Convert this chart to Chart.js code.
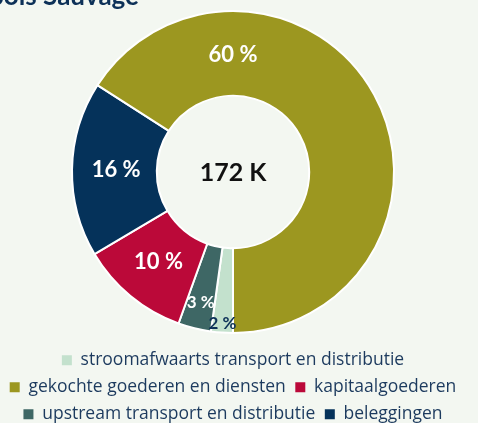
<!DOCTYPE html>
<html><head><meta charset="utf-8">
<script src="https://cdn.jsdelivr.net/npm/chart.js@4"></script>
<style>
html,body{margin:0;padding:0;background:#f3f7f1;overflow:hidden;}
#wrap{width:478px;height:423px;position:relative;}
</style>
</head><body>
<div id="wrap"><canvas id="c" width="478" height="423"></canvas></div>
<script>
const categories = [
  'stroomafwaarts transport en distributie',
  'upstream transport en distributie',
  'kapitaalgoederen',
  'beleggingen',
  'gekochte goederen en diensten'
];
const shares = [2, 3, 10, 16, 60];
const legendOrder = [
  'stroomafwaarts transport en distributie',
  'gekochte goederen en diensten',
  'kapitaalgoederen',
  'upstream transport en distributie',
  'beleggingen'
];
const colors = ['#c3e1cd', '#3e6765', '#bb0939', '#05325a', '#9c9720'];
const totalLabel = '172 K';
const titleText = 'Bois Sauvage';

const NAVY = '#0d3158';

const labelPlugin = {
  id: 'sliceLabels',
  afterDatasetsDraw(chart) {
    const ctx = chart.ctx;
    const meta = chart.getDatasetMeta(0);
    const total = shares.reduce((a, b) => a + b, 0);
    const maxV = Math.max(...shares);
    ctx.save();
    ctx.textAlign = 'center';
    ctx.textBaseline = 'middle';
    meta.data.forEach((arc, i) => {
      const p = arc.getProps(['x', 'y', 'startAngle', 'endAngle', 'innerRadius', 'outerRadius'], true);
      let ang = (p.startAngle + p.endAngle) / 2;
      const frac = shares[i] / total;
      let t = 0.48, size = 22, col = '#ffffff';
      if (shares[i] === maxV) {
        const top = Math.PI * 1.5;
        if (p.startAngle <= top && p.endAngle >= top) ang = top;
      }
      if (frac < 0.03) { t = 0.89; size = 17; col = NAVY; }
      else if (frac < 0.05) { t = 0.69; size = 17; }
      const r = p.innerRadius + (p.outerRadius - p.innerRadius) * t;
      ctx.font = 'bold ' + size + 'px Lato';
      ctx.fillStyle = col;
      ctx.fillText(shares[i] + ' %', p.x + Math.cos(ang) * r, p.y + Math.sin(ang) * r);
    });
    const a0 = meta.data[0];
    ctx.font = 'bold 25px Lato';
    ctx.fillStyle = '#111111';
    ctx.fillText(totalLabel, a0.x, a0.y + 1);
    ctx.restore();
  },
  afterDraw(chart) {
    const ctx = chart.ctx;
    ctx.save();
    ctx.font = 'bold 26px Lato';
    ctx.fillStyle = NAVY;
    ctx.textAlign = 'right';
    ctx.textBaseline = 'alphabetic';
    ctx.fillText(titleText, 139, 5);
    ctx.restore();
  }
};

new Chart(document.getElementById('c'), {
  type: 'doughnut',
  data: {
    labels: categories,
    datasets: [{
      data: shares,
      backgroundColor: colors,
      borderColor: '#ffffff',
      borderWidth: 2,
      hoverOffset: 0
    }]
  },
  options: {
    responsive: false,
    animation: false,
    rotation: 180,
    radius: 161,
    cutout: 80,
    layout: { padding: { top: 2, right: 12, left: 0, bottom: -10 } },
    plugins: {
      tooltip: { enabled: false },
      legend: {
        position: 'bottom',
        labels: {
          boxWidth: 10,
          boxHeight: 10,
          padding: 9.5,
          color: '#1c3a5e',
          font: { family: 'Open Sans', size: 17.5 },
          sort: (a, b) => legendOrder.indexOf(a.text) - legendOrder.indexOf(b.text),
          generateLabels: (chart) => {
            const base = Chart.overrides.doughnut.plugins.legend.labels.generateLabels(chart);
            return base.map(l => Object.assign(l, { lineWidth: 0, strokeStyle: 'rgba(0,0,0,0)' }));
          }
        }
      }
    }
  },
  plugins: [labelPlugin]
});
</script>
</body></html>
